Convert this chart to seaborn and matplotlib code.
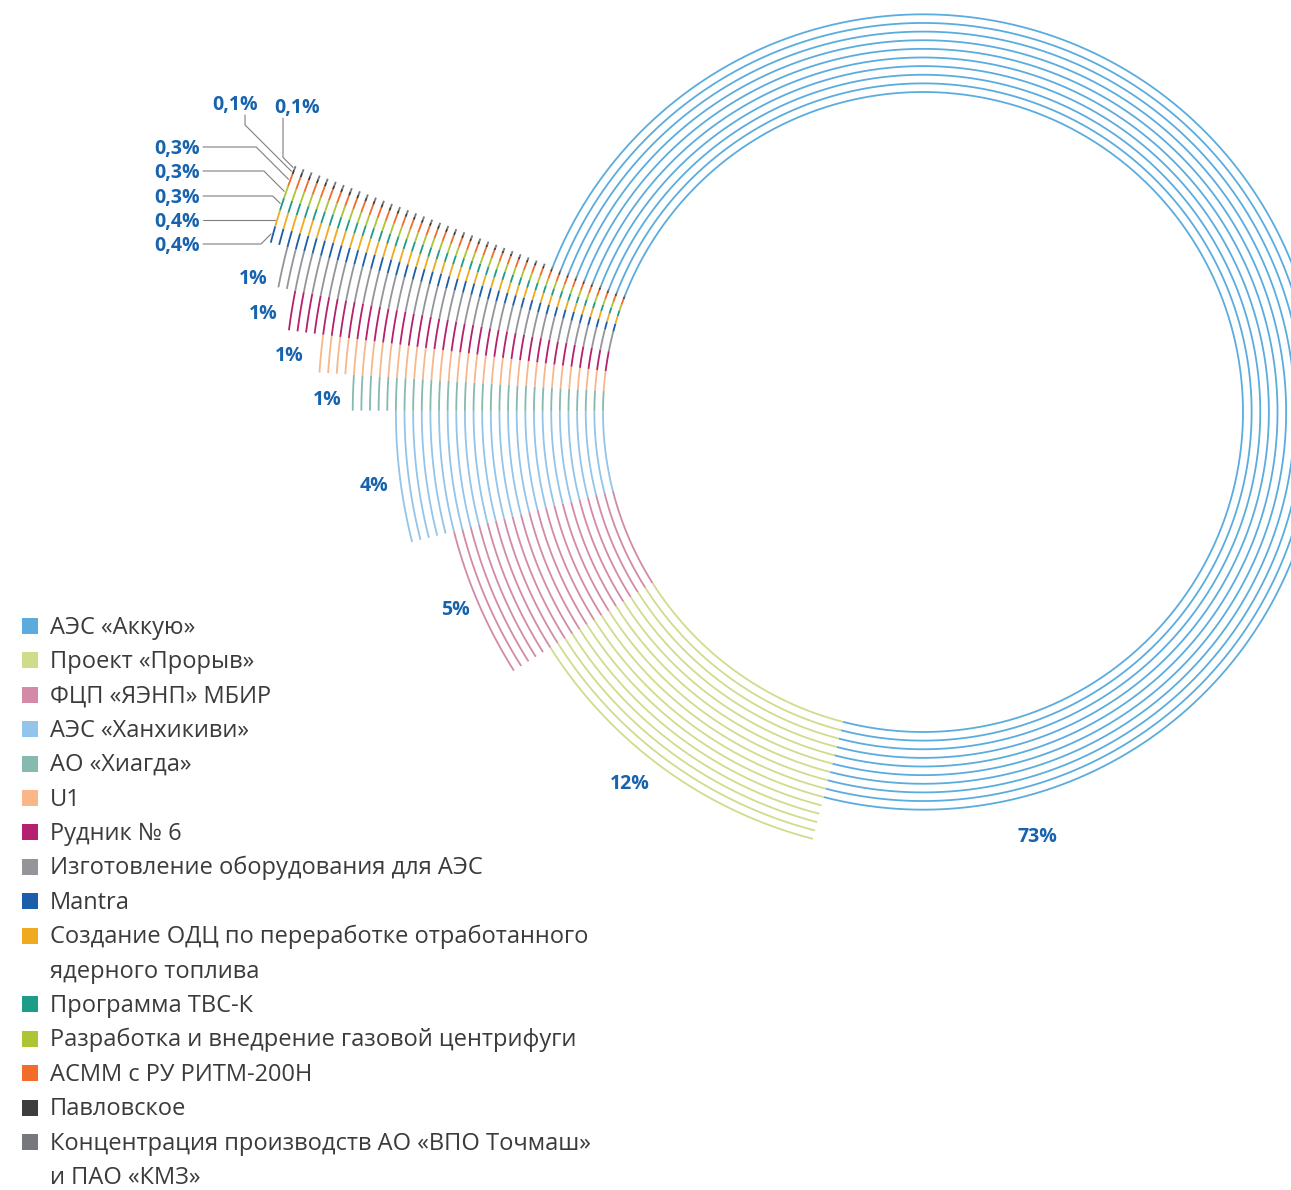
import numpy as np
import pandas as pd
import matplotlib
matplotlib.use("Agg")
import matplotlib.pyplot as plt
import seaborn as sns

# ---- data (legend order) ----
projects = [
    "АЭС «Аккую»",
    "Проект «Прорыв»",
    "ФЦП «ЯЭНП» МБИР",
    "АЭС «Ханхикиви»",
    "АО «Хиагда»",
    "U1",
    "Рудник № 6",
    "Изготовление оборудования для АЭС",
    "Mantra",
    "Создание ОДЦ по переработке отработанного\nядерного топлива",
    "Программа ТВС-К",
    "Разработка и внедрение газовой центрифуги",
    "АСММ с РУ РИТМ-200Н",
    "Павловское",
    "Концентрация производств АО «ВПО Точмаш»\nи ПАО «КМЗ»",
]
shares = [73, 12, 5, 4, 1, 1, 1, 1, 0.4, 0.4, 0.3, 0.3, 0.3, 0.1, 0.1]
share_labels = ["73%", "12%", "5%", "4%", "1%", "1%", "1%", "1%",
                "0,4%", "0,4%", "0,3%", "0,3%", "0,3%", "0,1%", "0,1%"]
# number of concentric lines drawn for each project
line_counts = [10, 15, 20, 25, 30, 34, 38, 40, 42, 42, 42, 42, 42, 42, 42]
colors = ["#5aacdf", "#d0dc8c", "#d38aa7", "#93c4ea", "#86b9b0", "#f9b68b",
          "#b5206f", "#949599", "#1b5ea9", "#f0aa1f", "#1f9b89", "#acc633",
          "#f26c2b", "#3d3d3d", "#77787b"]

# ---- layout (pixels) ----
CX, CY = 923, 412        # ring centre
R0, DR = 320, 8.63       # inner radius, spacing between lines
START = 158.6            # angle where the smallest project starts
LABEL_BLUE = "#1763ae"
TEXT_GREY = "#3b3b3b"
CAP = 7                  # half cap height of the bold labels

# label anchors (visual centre) for the projects without leader lines
label_pos = [(1037, 835), (630, 782), (455, 608), (374, 484),
             (327, 398), (289, 354), (263, 312), (253, 277)]

sns.set_theme(style="white")
plt.rcParams["font.family"] = ["Open Sans", "DejaVu Sans"]

# angles: counter-clockwise from START, smallest projects first
tot = sum(shares)
span = [360 * s / tot for s in shares]
a_start, a_end = [0] * len(shares), [0] * len(shares)
a = START
for i in reversed(range(len(shares))):
    a_start[i] = a
    a_end[i] = a + span[i]
    a = a_end[i]

rows = []
arc_id = 0
for i, name in enumerate(projects):
    n_pts = max(4, int(span[i] * 3))
    th = np.radians(np.linspace(a_start[i], a_end[i], n_pts))
    for k in range(line_counts[i]):
        r = R0 + DR * k
        rows.append(pd.DataFrame({
            "x": CX + r * np.cos(th),
            "y": CY - r * np.sin(th),
            "project": name,
            "arc": arc_id,
        }))
        arc_id += 1
df = pd.concat(rows, ignore_index=True)

fig = plt.figure(figsize=(12.91, 11.90), dpi=100)
ax = fig.add_axes([0, 0, 1, 1])

sns.lineplot(data=df, x="x", y="y", hue="project", hue_order=projects,
             palette=dict(zip(projects, colors)), units="arc", estimator=None,
             sort=False, legend=False, linewidth=1.3, solid_capstyle="butt", ax=ax)

ax.set_xlim(0, 1291)
ax.set_ylim(1190, 0)
ax.axis("off")

# ---- percent labels for the larger projects ----
for i, (lx, ly) in enumerate(label_pos):
    ax.text(lx, ly + CAP, share_labels[i], ha="center", va="baseline",
            fontsize=14, fontweight="bold", color=LABEL_BLUE)

# ---- small projects with leader lines ----
r_lead = R0 + DR * 41 + 2
side_y = {8: 244, 9: 220, 10: 196, 11: 171, 12: 147}
for i, ly in side_y.items():
    ax.text(200, ly + CAP, share_labels[i], ha="right", va="baseline",
            fontsize=14, fontweight="bold", color=LABEL_BLUE)
    s = np.degrees(np.arcsin((CY - ly) / r_lead))
    hit = 180 - s
    if a_start[i] <= hit <= a_end[i]:
        ex, ey = CX + r_lead * np.cos(np.radians(hit)), ly
        xs, ys = [203, ex], [ly, ey]
    else:
        t = np.radians((a_start[i] + a_end[i]) / 2)
        ex, ey = CX + r_lead * np.cos(t), CY - r_lead * np.sin(t)
        bx = ex - abs(ey - ly)
        xs, ys = [203, bx, ex], [ly, ly, ey]
    ax.plot(xs, ys, color="#7f7f7f", lw=0.8)

top_lab = {13: (235, 103, 245), 14: (297, 106, 283)}
for i, (lx, ly, vx) in top_lab.items():
    ax.text(lx, ly + CAP, share_labels[i], ha="center", va="baseline",
            fontsize=14, fontweight="bold", color=LABEL_BLUE)
    t = np.radians((a_start[i] + a_end[i]) / 2)
    ex, ey = CX + r_lead * np.cos(t), CY - r_lead * np.sin(t)
    by = ey - (ex - vx)
    ax.plot([vx, vx, ex], [ly + 12, by, ey], color="#7f7f7f", lw=0.8)

# ---- legend ----
row_y, row_step = 626, 34.4
row = 0
for name, col in zip(projects, colors):
    ax.scatter([30], [row_y + row * row_step], marker="s", s=132, color=col,
               linewidths=0)
    for line in name.split("\n"):
        ax.text(50, row_y + row * row_step + 7.5, line, ha="left", va="baseline",
                fontsize=17, color=TEXT_GREY)
        row += 1

fig.savefig("out.png", dpi=100)
